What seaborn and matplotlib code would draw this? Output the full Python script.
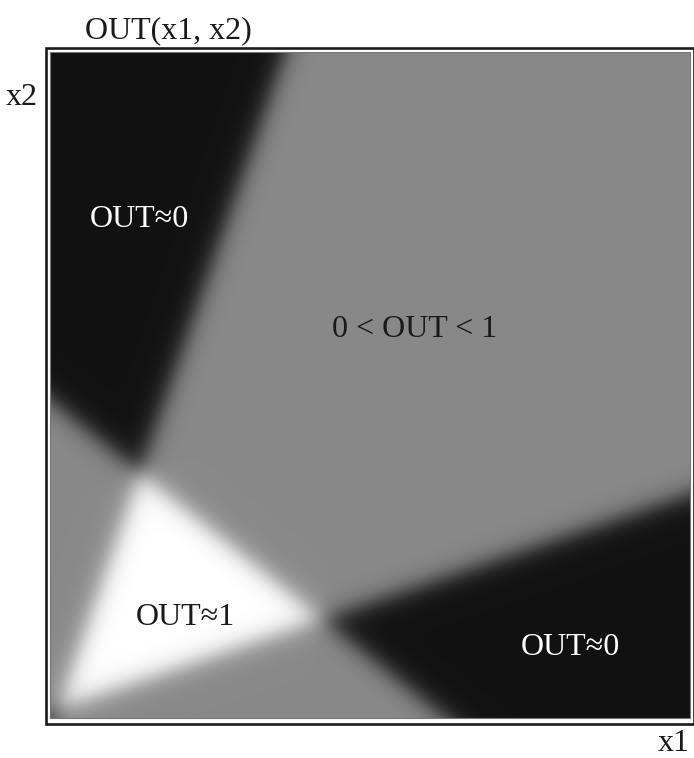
import numpy as np
import matplotlib
matplotlib.use("Agg")
import matplotlib.pyplot as plt
import seaborn as sns
from matplotlib.patches import Rectangle

sns.set_theme(style="white")
plt.rcParams["font.family"] = ["Liberation Serif", "DejaVu Serif"]

# DATA: the three separating lines (x1, x2 in 0..1), each given by two points
line_a = [(0.367, 1.000), (0.011, 0.012)]
line_b = [(0.000, 0.476), (0.617, 0.000)]
line_c = [(0.011, 0.012), (1.000, 0.335)]
# a point inside the OUT~1 triangle, tells which side of each line is "on"
inside_point = (0.15, 0.17)
# gray levels for 1, 2 and 3 active half-planes
levels = [0.0, 0.5, 1.0]
edge_softness = 0.010

region_labels = ["OUT\u22480", "0 < OUT < 1", "OUT\u22481", "OUT\u22480"]
label_px = [(139, 227), (415, 337), (185, 625), (570, 655)]
label_colors = ["white", "#1a1a1a", "#1a1a1a", "white"]

W, H = 694, 758
fig = plt.figure(figsize=(W / 100, H / 100), dpi=100)


def fx(x):
    return x / W


def fy(y):
    return 1 - y / H


# CONFIG: plot area in pixels
left, top, right, bottom = 50, 52, 690, 718
ax = fig.add_axes([fx(left), fy(bottom), fx(right - left), (bottom - top) / H])

nx, ny = 320, 333
x1 = np.linspace(0, 1, nx)
x2 = np.linspace(1, 0, ny)
X1, X2 = np.meshgrid(x1, x2)


def half_plane(line):
    (ax_, ay_), (bx_, by_) = line
    nx_, ny_ = -(by_ - ay_), bx_ - ax_
    norm = np.hypot(nx_, ny_)
    d = ((X1 - ax_) * nx_ + (X2 - ay_) * ny_) / norm
    d_in = ((inside_point[0] - ax_) * nx_ + (inside_point[1] - ay_) * ny_) / norm
    d = d * np.sign(d_in)
    return 1 / (1 + np.exp(-d / edge_softness))


active = half_plane(line_a) + half_plane(line_b) + half_plane(line_c)
out = np.interp(active, [1, 2, 3], levels)

sns.heatmap(out, ax=ax, cmap="gray", vmin=-0.075, vmax=1.0, cbar=False,
            xticklabels=False, yticklabels=False, rasterized=True)
for s in ax.spines.values():
    s.set_visible(True)
    s.set_color("#777777")
    s.set_linewidth(0.8)

# outer frame
fig.patches.append(Rectangle((fx(45.5), fy(723.5)), fx(694 - 45.5), (723.5 - 47.5) / H,
                             transform=fig.transFigure, fill=False,
                             edgecolor="#1a1a1a", linewidth=1.9))

for txt, (px, py), c in zip(region_labels, label_px, label_colors):
    fig.text(fx(px), fy(py), txt, color=c, fontsize=23, ha="center", va="baseline")

fig.text(fx(168), fy(38.5), "OUT(x1, x2)", color="#1a1a1a", fontsize=23, ha="center", va="baseline")
fig.text(fx(6), fy(105), "x2", color="#1a1a1a", fontsize=23, ha="left", va="baseline")
fig.text(fx(690), fy(751), "x1", color="#1a1a1a", fontsize=23, ha="right", va="baseline")

fig.savefig("out.png", dpi=100, facecolor="white")
